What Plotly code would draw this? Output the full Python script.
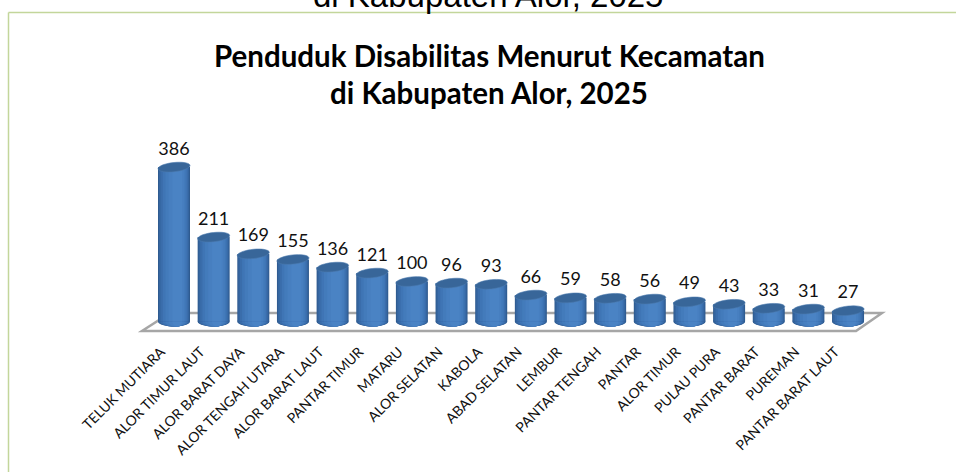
import numpy as np
import plotly.graph_objects as go

districts = ["TELUK MUTIARA", "ALOR TIMUR LAUT", "ALOR BARAT DAYA", "ALOR TENGAH UTARA", "ALOR BARAT LAUT",
             "PANTAR TIMUR", "MATARU", "ALOR SELATAN", "KABOLA", "ABAD SELATAN", "LEMBUR", "PANTAR TENGAH",
             "PANTAR", "ALOR TIMUR", "PULAU PURA", "PANTAR BARAT", "PUREMAN", "PANTAR BARAT LAUT"]
residents = [386, 211, 169, 155, 136, 121, 100, 96, 93, 66, 59, 58, 56, 49, 43, 33, 31, 27]

W, H = 956, 472
PLOT_BOTTOM = 340
X0, DX = 174.0, 39.65
Y0, SY = 321.5, 0.40
BAR_PX = 32.0
ELL_B = 5.0

px_x = lambda p: (p - X0) / DX
py_y = lambda p: (Y0 - p) / SY
idx = np.arange(len(districts))
vals = np.array(residents, float)

# gradient strips: (left fraction, right fraction, colour), outer to inner
strips = [(-0.50, 0.50, "#2f5b90"), (-0.47, 0.47, "#35659f"), (-0.42, 0.44, "#3a6dab"),
          (-0.35, 0.40, "#3f75b5"), (-0.27, 0.36, "#437bbb"), (-0.17, 0.31, "#477fc0"),
          (-0.05, 0.25, "#4a83c4")]

fig = go.Figure()
for l, r, c in strips:
    fig.add_bar(x=idx, y=vals, width=(r - l) * BAR_PX / DX, offset=l * BAR_PX / DX,
                marker=dict(color=c, line=dict(width=0)), hoverinfo="skip", showlegend=False)

fig.add_scatter(x=idx, y=vals + py_y(Y0 - 8), mode="text", text=[str(v) for v in residents],
                textposition="top center", textfont=dict(family="Lato", size=18, color="#111111"),
                hoverinfo="skip", showlegend=False)

shapes = []


def ellipse_path(cx, val, half_px, b_px, tilt_px):
    t = np.linspace(0, 2 * np.pi, 37)[:-1]
    xs = cx + half_px * np.cos(t) / DX
    ys = val + (b_px * np.sin(t) + tilt_px * np.cos(t)) / SY
    return "M" + "L".join(f"{a:.4f},{b:.3f}" for a, b in zip(xs, ys)) + "Z"


# floor
floor = [(142, 331), (856, 331), (882, 313), (170, 313)]
path = "M" + "L".join(f"{px_x(a):.3f},{py_y(b):.2f}" for a, b in floor) + "Z"
shapes.append(dict(type="path", path=path, xref="x", yref="y", layer="below",
                   line=dict(color="#a6a6a6", width=2.5), fillcolor="rgba(0,0,0,0)"))

for i, v in zip(idx, vals):
    for l, r, c in strips:
        cx = i + (l + r) / 2 * BAR_PX / DX
        shapes.append(dict(type="path", path=ellipse_path(cx, 0, (r - l) / 2 * BAR_PX, ELL_B, 0),
                           xref="x", yref="y", layer="below", fillcolor=c, line=dict(width=0)))
    shapes.append(dict(type="path", path=ellipse_path(i, v, BAR_PX / 2, 4.6, 1.6), xref="x", yref="y",
                       layer="above", fillcolor="#386699", line=dict(color="#4a78ad", width=0.6)))

# slide frame
frame_top = 1 - 12.5 / PLOT_BOTTOM
shapes.append(dict(type="line", xref="paper", yref="paper", x0=8.5 / W, x1=1, y0=frame_top, y1=frame_top,
                   line=dict(color="#c3d69b", width=1.5)))
shapes.append(dict(type="line", xref="paper", yref="paper", x0=8.5 / W, x1=8.5 / W, y0=frame_top,
                   y1=1 - H / PLOT_BOTTOM, line=dict(color="#c3d69b", width=1.5)))

fig.update_layout(
    width=W, height=H, margin=dict(l=0, r=0, t=0, b=H - PLOT_BOTTOM, autoexpand=False),
    paper_bgcolor="white", plot_bgcolor="white", barmode="overlay", showlegend=False, shapes=shapes,
    xaxis=dict(range=[px_x(0), px_x(W)], tickmode="array", tickvals=idx.tolist(), ticktext=districts,
               tickangle=-45, ticklen=0, showgrid=False, zeroline=False, showline=False,
               tickfont=dict(family="Lato", size=14, color="#111111"), ticklabelshift=-13),
    yaxis=dict(range=[py_y(PLOT_BOTTOM), py_y(0)], visible=False),
    annotations=[
        dict(text="<b>Penduduk Disabilitas Menurut Kecamatan</b>", x=489 / W, y=1 - 56 / PLOT_BOTTOM, xref="paper",
             yref="paper", yanchor="middle", showarrow=False, font=dict(family="Lato", size=29.5, color="black")),
        dict(text="<b>di Kabupaten Alor, 2025</b>", x=489 / W, y=1 - 92.5 / PLOT_BOTTOM, xref="paper", yref="paper",
             yanchor="middle", showarrow=False, font=dict(family="Lato", size=29.5, color="black")),
        dict(text="di Kabupaten Alor, 2025", x=488 / W, y=1 + 5 / PLOT_BOTTOM, xref="paper", yref="paper",
             yanchor="middle", showarrow=False, font=dict(family="Liberation Sans", size=33, color="black")),
    ],
)
fig.write_html("out.html", config=dict(displayModeBar=False),
               post_script="document.body.style.margin='0';document.body.style.overflow='hidden';")
